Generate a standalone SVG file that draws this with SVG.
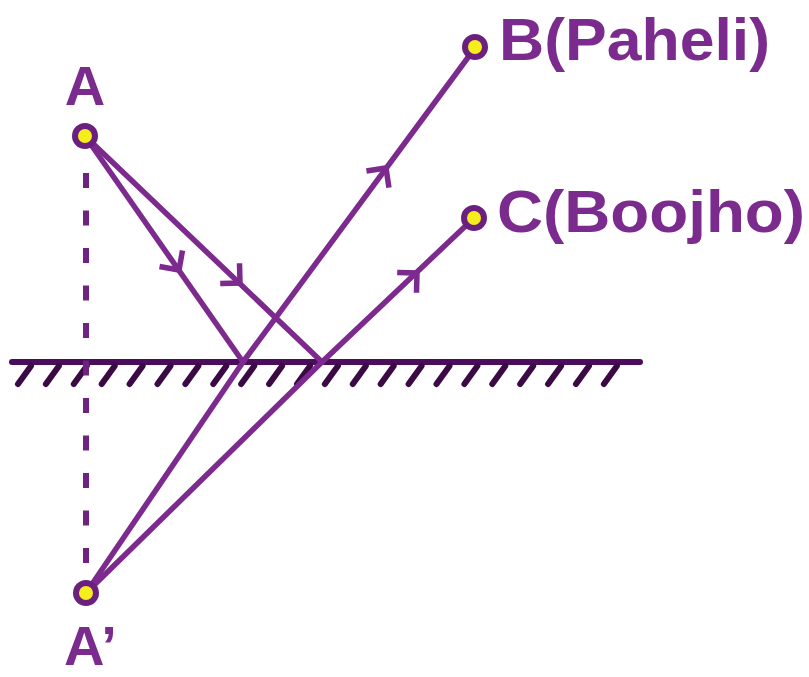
<svg xmlns="http://www.w3.org/2000/svg" width="809" height="677" viewBox="0 0 809 677">
  <style>
    .ray { fill: none; stroke: #7d2a8f; stroke-width: 5.5; stroke-linecap: round; stroke-linejoin: round; }
    .chev { fill: none; stroke: #7d2a8f; stroke-width: 5.5; stroke-linecap: butt; stroke-linejoin: miter; }
    .dash { fill: none; stroke: #6e2282; stroke-width: 6; stroke-dasharray: 15 22.5; }
    .mirror { stroke: #4c0c5e; stroke-width: 6; stroke-linecap: round; }
    .hatch { stroke: #3b0a45; stroke-width: 6; stroke-linecap: round; }
    .dot { fill: #f6ee1c; stroke: #6b2080; stroke-width: 6; }
    .lbl { font-family: "Liberation Sans", Arial, sans-serif; font-weight: bold; fill: #7b2a8e; }
  </style>
  <defs>
    <path id="chev" d="M -14 -14 L 0 0 L -14 14"/>
  </defs>
  <rect width="809" height="677" fill="#ffffff"/>

  <g id="mirror">
    <line class="mirror" x1="12" y1="362" x2="640" y2="362"/>
    <g id="hatching">
      <line class="hatch" x1="18" y1="384" x2="31" y2="366"/>
      <line class="hatch" x1="45.9" y1="384" x2="58.9" y2="366"/>
      <line class="hatch" x1="73.8" y1="384" x2="86.8" y2="366"/>
      <line class="hatch" x1="101.7" y1="384" x2="114.7" y2="366"/>
      <line class="hatch" x1="129.6" y1="384" x2="142.6" y2="366"/>
      <line class="hatch" x1="157.5" y1="384" x2="170.5" y2="366"/>
      <line class="hatch" x1="185.4" y1="384" x2="198.4" y2="366"/>
      <line class="hatch" x1="213.3" y1="384" x2="226.3" y2="366"/>
      <line class="hatch" x1="241.2" y1="384" x2="254.2" y2="366"/>
      <line class="hatch" x1="269.1" y1="384" x2="282.1" y2="366"/>
      <line class="hatch" x1="297" y1="384" x2="310" y2="366"/>
      <line class="hatch" x1="324.9" y1="384" x2="337.9" y2="366"/>
      <line class="hatch" x1="352.8" y1="384" x2="365.8" y2="366"/>
      <line class="hatch" x1="380.7" y1="384" x2="393.7" y2="366"/>
      <line class="hatch" x1="408.6" y1="384" x2="421.6" y2="366"/>
      <line class="hatch" x1="436.5" y1="384" x2="449.5" y2="366"/>
      <line class="hatch" x1="464.4" y1="384" x2="477.4" y2="366"/>
      <line class="hatch" x1="492.3" y1="384" x2="505.3" y2="366"/>
      <line class="hatch" x1="520.2" y1="384" x2="533.2" y2="366"/>
      <line class="hatch" x1="548.1" y1="384" x2="561.1" y2="366"/>
      <line class="hatch" x1="576" y1="384" x2="589" y2="366"/>
      <line class="hatch" x1="603.9" y1="384" x2="616.9" y2="366"/>
    </g>
  </g>

  <g id="connectors">
    <line class="dash" x1="86" y1="173" x2="86" y2="565"/>
    <line class="ray" x1="85" y1="136" x2="243" y2="362"/>
    <line class="ray" x1="85" y1="136" x2="322" y2="362"/>
    <polyline class="ray" points="86,593 243,362 475,48"/>
    <polyline class="ray" points="86,593 322,362 474,218"/>
    <use href="#chev" class="chev" transform="translate(179,270) rotate(55.2)"/>
    <use href="#chev" class="chev" transform="translate(240,283) rotate(43.6)"/>
    <use href="#chev" class="chev" transform="translate(386,168) rotate(-53.5)"/>
    <use href="#chev" class="chev" transform="translate(417,273) rotate(-43.5)"/>
  </g>

  <g id="node-A">
    <circle class="dot" cx="85" cy="136" r="10"/>
    <text class="lbl" x="85" y="105" font-size="56" text-anchor="middle">A</text>
  </g>
  <g id="node-A-prime">
    <circle class="dot" cx="86" cy="593" r="10"/>
    <text class="lbl" x="64" y="665" font-size="56">A’</text>
  </g>
  <g id="node-B">
    <circle class="dot" cx="475" cy="47" r="10"/>
    <text class="lbl" x="499" y="60" font-size="60" textLength="271" lengthAdjust="spacingAndGlyphs">B(Paheli)</text>
  </g>
  <g id="node-C">
    <circle class="dot" cx="474" cy="218" r="10"/>
    <text class="lbl" x="497" y="232" font-size="60" textLength="308" lengthAdjust="spacingAndGlyphs">C(Boojho)</text>
  </g>
</svg>
